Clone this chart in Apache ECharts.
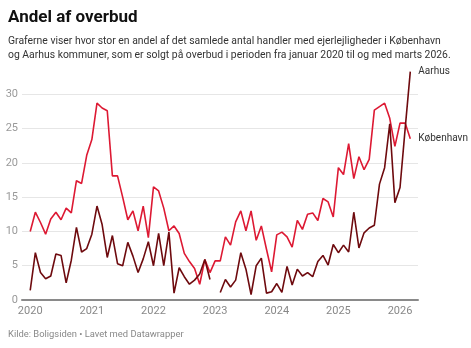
<!DOCTYPE html>
<html>
<head>
<meta charset="utf-8">
<script src="https://cdn.jsdelivr.net/npm/echarts@6/dist/echarts.min.js"></script>
<style>
html,body{margin:0;padding:0;background:#fff;}
#chart{width:471px;height:348px;}
</style>
</head>
<body>
<div id="chart"></div>
<script>
// Monthly data, January 2020 to March 2026 (75 months)
const startYear = 2020;
const yearTicks = [2020, 2021, 2022, 2023, 2024, 2025, 2026];
const kobenhavn = [
  10.0, 12.8, 11.3, 9.6, 11.8, 12.8, 11.7, 13.4, 12.7, 17.4, 17.0, 21.1,
  23.4, 28.7, 28.0, 27.6, 18.1, 18.1, 15.0, 11.7, 13.0, 10.1, 13.7, 9.1,
  16.5, 15.9, 13.4, 10.1, 10.8, 9.7, 6.8, 5.6, 4.6, 2.3, 5.9, 4.0,
  5.7, 5.7, 9.2, 8.0, 11.4, 13.0, 10.1, 13.0, 8.7, 10.8, 7.4, 4.1,
  9.5, 9.9, 9.2, 7.7, 11.6, 10.3, 12.5, 12.7, 11.6, 14.8, 14.3, 12.1,
  19.3, 18.3, 22.8, 17.7, 20.9, 19.0, 20.5, 27.7, 28.2, 28.7, 26.5, 22.4,
  25.8, 25.8, 23.5
];
const aarhus = [
  1.4, 6.9, 4.0, 3.1, 3.5, 6.7, 6.5, 2.5, 5.8, 10.6, 7.0, 7.5,
  9.6, 13.7, 11.0, 6.2, 9.4, 5.3, 5.0, 8.4, 6.4, 4.0, 6.0, 8.5,
  5.0, 9.7, 5.0, 9.9, 1.0, 4.7, 3.4, 2.3, 2.9, 3.8, 5.9, 3.0,
  null, 1.1, 3.0, 1.9, 2.9, 6.9, 4.5, 0.8, 5.0, 6.1, 1.0, 1.2,
  2.4, 1.1, 4.9, 2.2, 4.5, 3.5, 4.0, 3.4, 5.6, 6.5, 5.1, 8.1,
  6.9, 8.0, 7.0, 12.8, 7.6, 9.8, 10.5, 10.9, 16.9, 19.3, 25.7, 14.2,
  16.4, 25.0, 33.3
];

const toPairs = arr => arr.map((v, i) => [i, v]);
const yearPositions = yearTicks.map(y => (y - startYear) * 12);

const chart = echarts.init(document.getElementById('chart'), null, {renderer: 'canvas'});
const FONT = 'Roboto, "Noto Sans", sans-serif';

chart.setOption({
  animation: false,
  backgroundColor: '#ffffff',
  textStyle: {fontFamily: FONT},
  title: [
    {
      text: 'Andel af overbud',
      left: 8, top: 9, padding: 0,
      textStyle: {fontFamily: FONT, fontSize: 17, fontWeight: 'bold', color: '#111'}
    },
    {
      text: 'Graferne viser hvor stor en andel af det samlede antal handler med ejerlejligheder i København\nog Aarhus kommuner, som er solgt på overbud i perioden fra januar 2020 til og med marts 2026.',
      left: 8, top: 34, padding: 0,
      textStyle: {fontFamily: FONT, fontSize: 10.4, fontWeight: 'normal', color: '#333', lineHeight: 14}
    },
    {
      text: 'Kilde: Boligsiden • Lavet med Datawrapper',
      left: 8, top: 330, padding: 0,
      textStyle: {fontFamily: FONT, fontSize: 9.4, fontWeight: 'normal', color: '#888'}
    }
  ],
  grid: {left: 22, right: 53, top: 60, bottom: 48, containLabel: false},
  xAxis: {
    type: 'value',
    min: -1.6,
    max: 75.5,
    axisLine: {show: true, lineStyle: {color: '#8a8a8a', width: 2}},
    axisTick: {show: false},
    splitLine: {show: false},
    axisLabel: {
      customValues: yearPositions,
      formatter: v => String(startYear + Math.round(v / 12)),
      color: '#888', fontSize: 11, fontFamily: FONT, margin: 6
    }
  },
  yAxis: {
    type: 'value',
    min: 0, max: 35, interval: 5,
    axisLine: {show: false},
    axisTick: {show: false},
    splitLine: {show: true, showMaxLine: false, lineStyle: {color: '#e6e6e6', width: 1}},
    axisLabel: {
      formatter: v => (v > 30 ? '' : String(v)),
      color: '#999', fontSize: 11, fontFamily: FONT, margin: 4
    }
  },
  series: [
    {
      name: 'København',
      type: 'line',
      data: toPairs(kobenhavn),
      showSymbol: false,
      symbol: 'none',
      lineStyle: {color: '#dd1933', width: 1.6},
      itemStyle: {color: '#dd1933'},
      z: 2,
      endLabel: {
        show: true, formatter: 'København', distance: 8,
        color: '#333', fontSize: 10, fontFamily: FONT
      }
    },
    {
      name: 'Aarhus',
      type: 'line',
      data: toPairs(aarhus),
      connectNulls: false,
      showSymbol: false,
      symbol: 'none',
      lineStyle: {color: '#6e0a0e', width: 1.6},
      itemStyle: {color: '#6e0a0e'},
      z: 3,
      endLabel: {
        show: true, formatter: 'Aarhus', distance: 8,
        color: '#333', fontSize: 10, fontFamily: FONT
      }
    }
  ]
});
</script>
</body>
</html>
